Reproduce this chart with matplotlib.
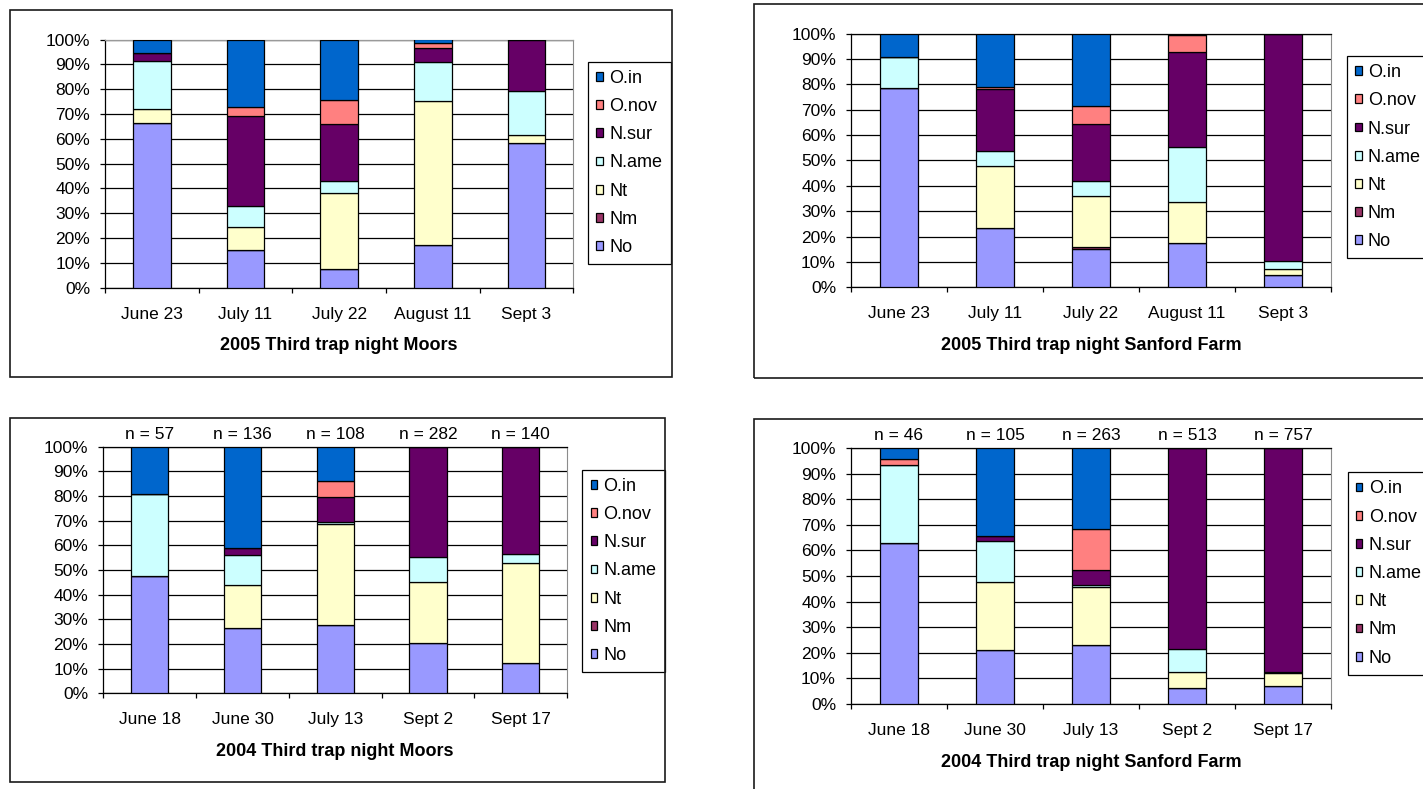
import numpy as np
import matplotlib.pyplot as plt
from matplotlib.patches import Rectangle
from matplotlib.ticker import PercentFormatter, FixedLocator

plt.rcParams['font.family'] = ['Liberation Sans', 'DejaVu Sans']

# species in stacking order (bottom -> top) and the Excel-style fill colours
species = ["No", "Nm", "Nt", "N.ame", "N.sur", "O.nov", "O.in"]
colors = ["#9999FF", "#993366", "#FFFFCC", "#CCFFFF", "#660066", "#FF8080", "#0066CC"]

# 2005, Moors (% of catch)
dates_2005 = ["June 23", "July 11", "July 22", "August 11", "Sept 3"]
m05_no = [66.3, 15.0, 7.3, 17.2, 58.1]
m05_nm = [0, 0, 0, 0, 0]
m05_nt = [5.7, 9.3, 31.0, 58.1, 3.2]
m05_name = [19.4, 8.4, 4.6, 15.6, 18.0]
m05_nsur = [3.0, 36.5, 23.0, 5.6, 20.7]
m05_onov = [0, 3.4, 9.9, 2.2, 0]
m05_oin = [5.6, 27.4, 24.2, 1.3, 0]

# 2005, Sanford Farm (% of catch)
s05_no = [78.7, 23.2, 15.0, 17.3, 4.7]
s05_nm = [0, 0, 0.7, 0, 0]
s05_nt = [0, 24.8, 20.4, 16.2, 2.4]
s05_name = [12.1, 5.9, 5.7, 21.7, 3.4]
s05_nsur = [0, 24.2, 22.4, 37.6, 89.5]
s05_onov = [0, 0.8, 7.2, 6.8, 0]
s05_oin = [9.2, 21.1, 28.6, 0.4, 0]

# 2004, Moors (counts)
dates_2004 = ["June 18", "June 30", "July 13", "Sept 2", "Sept 17"]
m04_no = [27, 36, 30, 57, 17]
m04_nm = [0, 0, 0, 0, 0]
m04_nt = [0, 24, 44, 70, 57]
m04_name = [19, 16, 1, 29, 5]
m04_nsur = [0, 4, 11, 126, 61]
m04_onov = [0, 0, 7, 0, 0]
m04_oin = [11, 56, 15, 0, 0]

# 2004, Sanford Farm (counts)
s04_no = [29, 22, 61, 33, 54]
s04_nm = [0, 0, 0, 0, 0]
s04_nt = [0, 28, 59, 32, 38]
s04_name = [14, 17, 2, 45, 4]
s04_nsur = [0, 2, 16, 403, 661]
s04_onov = [1, 0, 42, 0, 0]
s04_oin = [2, 36, 83, 0, 0]

W, H = 1423, 789
fig = plt.figure(figsize=(W / 100, H / 100), dpi=100)


def fbox(x0, y0, x1, y1):
    # pixel box (top-left origin) -> figure fraction [left, bottom, w, h]
    return [x0 / W, 1 - y1 / H, (x1 - x0) / W, (y1 - y0) / H]


def panel(plot_px, frame_px, legend_px, dates, series, title, show_n=False, top_col="black"):
    fx, fy, fw, fh = fbox(*frame_px)
    fig.add_artist(Rectangle((fx, fy), fw, fh, transform=fig.transFigure,
                             fill=False, ec="#1a1a1a", lw=1.2))
    ax = fig.add_axes(fbox(*plot_px))
    data = np.array(series, dtype=float)
    totals = data.sum(axis=0)
    frac = data / totals
    x = np.arange(len(dates))
    bottom = np.zeros(len(dates))
    handles = []
    for name, col, row in zip(species, colors, frac):
        b = ax.bar(x, row, 0.4, bottom=bottom, color=col, edgecolor="black", lw=0.9,
                   label=name, zorder=3)
        handles.append(b)
        bottom += row

    ax.set_xlim(-0.5, len(dates) - 0.5)
    ax.set_ylim(0, 1)
    ax.set_yticks(np.linspace(0, 1, 11))
    ax.yaxis.set_major_formatter(PercentFormatter(xmax=1, decimals=0))
    ax.yaxis.grid(True, color="black", lw=0.9)
    ax.set_axisbelow(True)
    ax.tick_params(axis="y", direction="out", length=3.6, width=0.9, pad=7.2, labelsize=12.5)

    ax.set_xticks(x)
    ax.set_xticklabels(dates)
    ax.xaxis.set_minor_locator(FixedLocator(np.arange(-0.5, len(dates), 1.0)))
    ax.tick_params(axis="x", which="major", length=0, pad=13.7, labelsize=12.5)
    ax.tick_params(axis="x", which="minor", direction="out", length=3.8, width=0.9)
    ax.set_xlabel(title, fontsize=13, fontweight="bold", labelpad=11.2)

    for side in ("left", "bottom"):
        ax.spines[side].set_color("black")
        ax.spines[side].set_linewidth(0.9)
    ax.spines["right"].set_color("#8c8c8c")
    ax.spines["top"].set_color(top_col)
    ax.spines["top"].set_linewidth(0.9)

    if show_n:
        for xi, n in zip(x, totals):
            ax.annotate(f"n = {int(n)}", xy=(xi, 1), xycoords=("data", "axes fraction"),
                        xytext=(0, 5.6), textcoords="offset points",
                        ha="center", va="baseline", fontsize=12.5)

    leg = ax.legend(handles[::-1], species[::-1], loc="upper left",
                    bbox_to_anchor=(legend_px[0] / W, 1 - legend_px[1] / H),
                    bbox_transform=fig.transFigure, borderaxespad=0,
                    fancybox=False, edgecolor="black", framealpha=1, fontsize=13,
                    handlelength=0.37, handleheight=0.37, handletextpad=0.35,
                    labelspacing=0.62, borderpad=0.45)
    leg.get_frame().set_linewidth(0.9)
    return ax


panel((105, 39.5, 573.3, 287.5), (10, 10, 672, 376.7), (588.3, 61.7), dates_2005,
      [m05_no, m05_nm, m05_nt, m05_name, m05_nsur, m05_onov, m05_oin],
      "2005 Third trap night Moors", top_col="#9a9a9a")
panel((851, 33.7, 1330.7, 287.3), (754, 4, 1440, 378.3), (1346.7, 56), dates_2005,
      [s05_no, s05_nm, s05_nt, s05_name, s05_nsur, s05_onov, s05_oin],
      "2005 Third trap night Sanford Farm")
panel((103.3, 446.7, 567.2, 693.3), (9.5, 418.3, 664.8, 781.7), (582.4, 469.7), dates_2004,
      [m04_no, m04_nm, m04_nt, m04_name, m04_nsur, m04_onov, m04_oin],
      "2004 Third trap night Moors", show_n=True)
panel((851, 448, 1331, 704), (754, 418.7, 1440, 800), (1347.6, 472.3), dates_2004,
      [s04_no, s04_nm, s04_nt, s04_name, s04_nsur, s04_onov, s04_oin],
      "2004 Third trap night Sanford Farm", show_n=True)

fig.savefig("out.png", dpi=100)
